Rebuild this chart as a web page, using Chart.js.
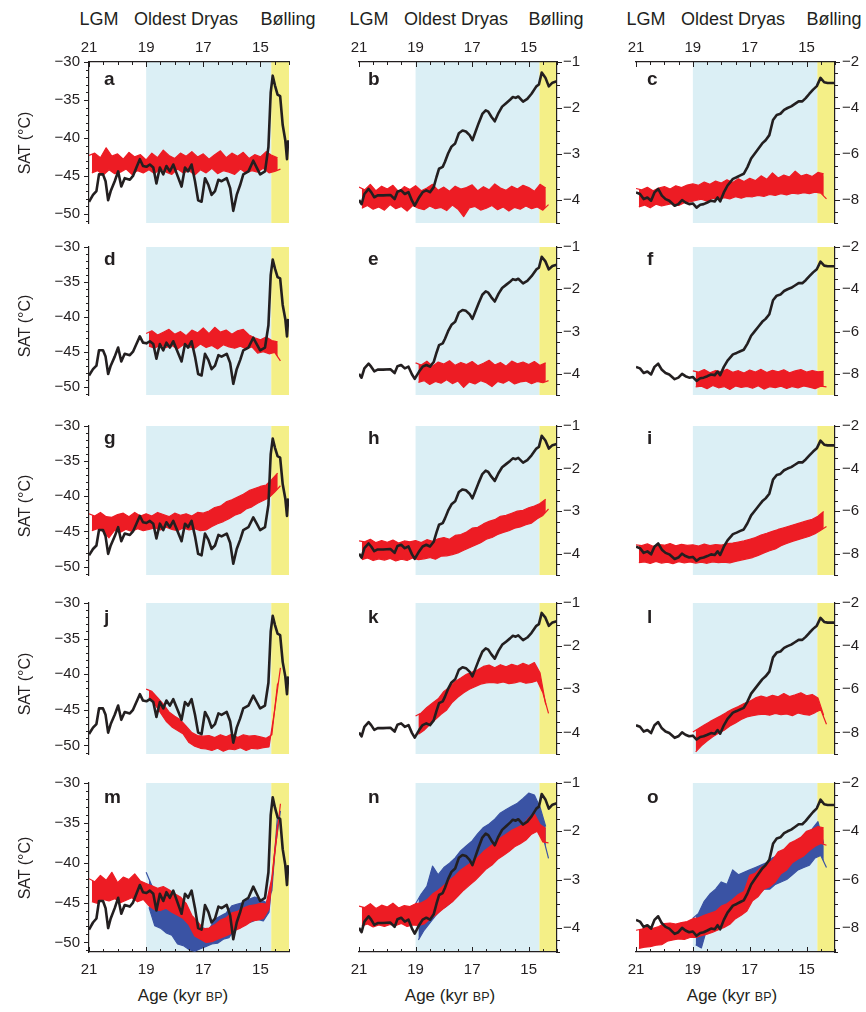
<!DOCTYPE html>
<html>
<head>
<meta charset="utf-8">
<script src="https://cdn.jsdelivr.net/npm/chart.js@4.4.1/dist/chart.umd.min.js"></script>
<style>
  body { margin: 0; background: #fff; width: 866px; height: 1012px; position: relative; overflow: hidden;
         font-family: "Liberation Sans", Arial, sans-serif; color: #231f20; }
  canvas { position: absolute; }
  .t { position: absolute; white-space: nowrap; z-index: 2; }
</style>
</head>
<body>
<script>
// sample ages (kyr BP) for the model runs, 21.0 down to 14.3
const ages = [21.0,20.9,20.8,20.7,20.6,20.5,20.4,20.3,20.2,20.1,
  20.0,19.9,19.8,19.7,19.6,19.5,19.4,19.3,19.2,19.1,
  19.0,18.9,18.8,18.7,18.6,18.5,18.4,18.3,18.2,18.1,
  18.0,17.9,17.8,17.7,17.6,17.5,17.4,17.3,17.2,17.1,
  17.0,16.9,16.8,16.7,16.6,16.5,16.4,16.3,16.2,16.1,
  16.0,15.9,15.8,15.7,15.6,15.5,15.4,15.3,15.2,15.1,
  15.0,14.9,14.8,14.7,14.6,14.5,14.4,14.3];

// black reference curves, one per column
const greenAge = [21.0,20.86,20.74,20.65,20.51,20.42,20.33,20.24,20.10,19.98,19.87,19.75,19.57,19.46,19.34,19.22,19.11,18.99,18.87,18.75,
  18.64,18.52,18.40,18.29,18.17,18.05,17.94,17.76,17.64,17.53,17.41,17.29,17.18,17.06,16.94,16.82,16.71,16.59,16.47,16.36,
  16.18,16.06,15.95,15.83,15.71,15.60,15.42,15.25,15.13,15.01,14.84,14.72,14.64,14.57,14.49,14.40,14.31,14.22,14.13,14.07,14.03];
const greenSAT = [-48.4,-47.5,-47.0,-44.8,-44.8,-45.7,-48.2,-47.0,-45.7,-44.4,-46.4,-45.3,-45.5,-45.0,-43.9,-42.8,-43.7,-43.8,-43.5,-43.9,
  -46.0,-43.9,-44.8,-43.7,-44.4,-43.5,-44.6,-46.4,-43.9,-44.4,-43.5,-45.7,-48.2,-48.4,-45.3,-46.2,-47.5,-47.0,-45.5,-45.7,
  -45.3,-46.6,-49.6,-47.5,-46.2,-44.8,-44.4,-43.0,-43.9,-44.8,-44.4,-41.2,-34.0,-31.8,-33.1,-34.3,-34.5,-38.3,-40.3,-42.8,-40.3];

const midAge = [21.0,20.91,20.81,20.66,20.57,20.46,20.34,20.15,19.89,19.74,19.64,19.51,19.38,19.25,19.13,19.03,18.87,18.75,18.62,18.49,
  18.36,18.26,18.17,18.04,17.96,17.85,17.73,17.60,17.47,17.34,17.22,17.09,16.99,16.90,16.77,16.64,16.52,16.43,16.32,16.20,
  16.07,15.94,15.79,15.66,15.56,15.46,15.37,15.20,15.05,14.90,14.73,14.64,14.54,14.41,14.29,14.16,14.01];
const midVal = [-4.00,-4.09,-3.87,-3.76,-3.83,-3.94,-3.90,-3.90,-3.89,-3.98,-3.82,-3.79,-3.87,-3.83,-4.01,-4.12,-3.94,-3.83,-3.79,-3.83,
  -3.72,-3.50,-3.32,-3.28,-3.17,-2.99,-2.84,-2.77,-2.55,-2.49,-2.51,-2.59,-2.70,-2.55,-2.33,-2.13,-2.05,-2.08,-2.19,-2.29,
  -2.11,-1.97,-1.89,-1.82,-1.76,-1.78,-1.75,-1.86,-1.80,-1.69,-1.53,-1.49,-1.23,-1.34,-1.53,-1.45,-1.42];

const rightAge = [21.0,20.86,20.73,20.60,20.47,20.35,20.22,20.09,19.96,19.83,19.64,19.51,19.38,19.26,19.13,19.00,18.87,18.74,18.62,18.49,
  18.36,18.23,18.13,18.04,17.91,17.78,17.59,17.46,17.33,17.21,17.08,16.95,16.82,16.69,16.56,16.44,16.31,16.18,16.05,15.92,
  15.79,15.67,15.54,15.41,15.28,15.15,15.03,14.90,14.77,14.64,14.51,14.38,14.26,14.0];
const rightVal = [-7.67,-7.74,-7.96,-7.89,-8.03,-7.67,-7.52,-7.81,-7.96,-8.03,-8.25,-8.18,-8.00,-8.11,-8.18,-8.15,-8.33,-8.21,-8.18,-8.11,
  -8.03,-8.06,-7.89,-8.06,-7.67,-7.37,-7.08,-7.01,-6.93,-6.86,-6.57,-6.20,-5.98,-5.76,-5.54,-5.40,-5.18,-4.52,-4.30,-4.25,
  -4.08,-4.00,-3.93,-3.82,-3.71,-3.71,-3.57,-3.38,-3.20,-3.05,-2.69,-2.88,-2.91,-2.91];

// red / blue runs: values alternate upper / lower edge of the noisy band;
// series shorter than ages start at 19.0 kyr
const redA = [-42.3,-44.6,-42.0,-44.3,-42.6,-44.9,-41.3,-44.2,-42.4,-44.7,
  -42.1,-44.5,-42.8,-44.1,-41.9,-44.8,-42.5,-44.3,-42.2,-44.6,
  -42.9,-44.2,-42.0,-44.7,-42.6,-44.0,-41.6,-44.5,-42.3,-44.8,
  -42.7,-44.1,-42.0,-44.6,-42.4,-44.3,-41.8,-44.9,-42.5,-44.2,
  -42.1,-44.6,-42.8,-44.0,-42.2,-44.7,-41.7,-44.3,-42.6,-44.5,
  -42.0,-44.8,-42.4,-44.1,-41.9,-44.6,-42.7,-44.3,-42.2,-44.5,
  -42.5,-44.0,-41.8,-44.6,-42.3,-44.4,-42.6,-44.1];
const redD = [-42.4,-44.2,-42.0,-44.5,-42.6,-44.0,-42.2,-44.4,-41.8,-44.1,
  -42.5,-44.6,-42.1,-44.0,-42.7,-44.3,-41.9,-44.5,-42.3,-43.9,
  -41.6,-44.4,-42.4,-44.1,-41.5,-44.6,-42.2,-44.0,-41.9,-44.3,
  -42.5,-44.5,-42.0,-44.2,-41.8,-44.6,-42.6,-44.3,-43.0,-45.2,
  -43.3,-45.0,-42.9,-45.3,-43.4,-45.1,-43.6,-46.3];
const redG = [-42.5,-44.9,-42.8,-44.6,-42.3,-45.0,-42.9,-45.9,-43.0,-44.8,
  -42.6,-45.1,-42.4,-44.7,-42.9,-45.0,-42.3,-44.6,-42.8,-44.9,
  -42.5,-44.7,-42.8,-44.5,-42.3,-44.8,-42.6,-44.4,-42.9,-44.7,
  -42.4,-44.9,-42.7,-44.5,-42.5,-44.8,-42.8,-44.6,-42.3,-44.9,
  -42.4,-44.8,-42.1,-44.3,-41.6,-43.9,-41.4,-43.6,-40.8,-43.2,
  -40.5,-42.7,-40.1,-42.4,-39.7,-41.8,-39.2,-41.5,-38.9,-41.0,
  -38.6,-40.6,-38.4,-40.2,-37.6,-39.4,-36.7,-38.5];
const redJ = [-42.1,-43.2,-42.4,-44.2,-43.3,-45.4,-44.2,-46.6,-45.3,-47.4,
  -45.9,-47.9,-46.4,-48.4,-47.3,-49.6,-48.2,-50.1,-48.6,-50.4,
  -48.7,-50.5,-48.6,-50.7,-48.9,-50.4,-48.5,-50.8,-48.8,-50.5,
  -48.4,-50.6,-48.9,-50.3,-48.5,-50.7,-48.7,-50.4,-48.6,-50.5,
  -48.8,-50.3,-49.0,-50.2,-48.5,-45.0,-41.3,-39.1];
const redM = [-42.0,-44.9,-42.4,-45.1,-41.6,-44.6,-42.2,-44.8,-41.2,-44.5,
  -42.5,-45.0,-41.8,-44.7,-42.1,-44.4,-41.4,-44.9,-42.3,-44.6,
  -42.6,-45.4,-42.9,-45.9,-43.2,-46.0,-43.0,-45.7,-43.4,-46.2,
  -43.9,-46.6,-44.3,-47.0,-45.1,-47.8,-46.6,-49.2,-47.4,-49.6,
  -48.3,-50.0,-48.2,-49.9,-47.8,-49.6,-47.2,-49.3,-46.9,-49.0,
  -46.3,-48.5,-46.1,-48.2,-45.7,-47.8,-45.4,-47.3,-45.3,-47.2,
  -45.1,-47.0,-45.2,-45.8,-41.9,-39.0,-35.2,-32.6];
const blueM = [-41.2,-45.6,-42.9,-47.9,-43.5,-48.2,-44.3,-48.8,-44.6,-49.1,
  -45.8,-50.2,-46.1,-50.4,-47.0,-50.9,-47.3,-51.1,-47.6,-50.8,
  -48.2,-50.5,-48.4,-50.2,-47.1,-50.1,-46.7,-49.6,-46.3,-49.4,
  -45.4,-48.3,-45.2,-48.0,-45.0,-47.6,-44.6,-47.4,-44.3,-47.1,
  -44.6,-47.3,-45.0,-46.2,-43.5,-38.6,-34.0,-33.5];

const redB = [-3.72,-4.18,-3.78,-4.12,-3.66,-4.20,-3.80,-4.15,-3.70,-4.22,
  -3.76,-4.10,-3.68,-4.19,-3.82,-4.14,-3.71,-4.24,-3.77,-4.12,
  -3.69,-4.18,-3.80,-4.21,-3.74,-4.13,-3.66,-4.19,-3.79,-4.16,
  -3.72,-4.23,-3.81,-4.11,-3.70,-4.20,-3.76,-4.36,-3.73,-4.17,
  -3.67,-4.14,-3.80,-4.22,-3.71,-4.18,-3.78,-4.12,-3.65,-4.21,
  -3.74,-4.15,-3.79,-4.24,-3.70,-4.16,-3.76,-4.20,-3.68,-4.13,
  -3.73,-4.19,-3.81,-4.15,-3.66,-4.22,-3.74,-4.10];
const redE = [-3.74,-4.20,-3.79,-4.16,-3.70,-4.25,-3.82,-4.18,-3.72,-4.22,
  -3.77,-4.14,-3.69,-4.23,-3.80,-4.17,-3.73,-4.32,-3.78,-4.19,
  -3.71,-4.24,-3.81,-4.16,-3.75,-4.21,-3.68,-4.30,-3.79,-4.18,
  -3.73,-4.22,-3.82,-4.15,-3.70,-4.24,-3.76,-4.19,-3.72,-4.17,
  -3.78,-4.23,-3.71,-4.18,-3.80,-4.21,-3.74,-4.16];
const redH = [-3.70,-4.14,-3.72,-4.10,-3.66,-4.16,-3.74,-4.12,-3.69,-4.15,
  -3.73,-4.11,-3.68,-4.17,-3.75,-4.13,-3.70,-4.16,-3.72,-4.10,
  -3.69,-4.14,-3.74,-4.12,-3.67,-4.09,-3.71,-4.13,-3.65,-4.06,
  -3.62,-4.05,-3.66,-4.02,-3.57,-3.98,-3.55,-3.92,-3.49,-3.86,
  -3.40,-3.80,-3.38,-3.74,-3.30,-3.66,-3.24,-3.62,-3.20,-3.55,
  -3.12,-3.50,-3.10,-3.46,-3.05,-3.40,-3.00,-3.37,-2.98,-3.32,
  -2.92,-3.28,-2.88,-3.18,-2.82,-3.10,-2.72,-2.95];
const redK = [-3.62,-4.04,-3.55,-3.95,-3.42,-3.82,-3.32,-3.70,-3.22,-3.58,
  -3.05,-3.48,-2.95,-3.30,-2.82,-3.18,-2.74,-3.08,-2.65,-3.00,
  -2.60,-2.94,-2.55,-2.88,-2.47,-2.85,-2.44,-2.84,-2.50,-2.86,
  -2.43,-2.83,-2.48,-2.87,-2.42,-2.85,-2.46,-2.82,-2.40,-2.86,
  -2.45,-2.84,-2.38,-2.80,-2.62,-3.08,-3.35,-3.56];
const redN = [-3.55,-3.96,-3.58,-3.92,-3.50,-3.98,-3.60,-3.94,-3.53,-3.97,
  -3.57,-3.93,-3.49,-3.95,-3.59,-3.91,-3.54,-3.97,-3.56,-3.94,
  -3.50,-3.95,-3.48,-3.92,-3.42,-3.82,-3.30,-3.74,-3.22,-3.64,
  -3.12,-3.55,-3.02,-3.46,-2.92,-3.34,-2.80,-3.22,-2.72,-3.12,
  -2.64,-3.02,-2.54,-2.90,-2.42,-2.78,-2.33,-2.70,-2.24,-2.58,
  -2.14,-2.50,-2.06,-2.42,-1.98,-2.32,-1.92,-2.26,-1.86,-2.18,
  -1.72,-2.06,-1.64,-2.00,-1.86,-2.22,-1.94,-2.24];
const blueN = [-3.50,-4.25,-3.30,-4.05,-3.14,-3.90,-2.72,-3.75,-2.90,-3.62,
  -2.75,-3.55,-2.66,-3.45,-2.55,-3.30,-2.40,-3.12,-2.30,-3.00,
  -2.20,-2.85,-2.05,-2.70,-1.92,-2.62,-1.85,-2.50,-1.75,-2.40,
  -1.62,-2.30,-1.55,-2.18,-1.48,-2.05,-1.42,-1.98,-1.32,-1.86,
  -1.21,-1.76,-1.25,-1.83,-1.50,-2.10,-1.90,-2.56];

const redC = [-7.50,-8.30,-7.56,-8.22,-7.45,-8.34,-7.60,-8.18,-7.48,-8.26,
  -7.42,-8.20,-7.52,-8.15,-7.38,-8.24,-7.46,-8.12,-7.35,-8.08,
  -7.30,-8.02,-7.36,-7.96,-7.22,-8.05,-7.32,-7.92,-7.18,-7.98,
  -7.26,-7.90,-7.12,-7.95,-7.24,-7.86,-7.08,-7.92,-7.20,-7.84,
  -7.06,-7.86,-7.16,-7.80,-6.95,-7.84,-7.10,-7.76,-6.82,-7.80,
  -7.04,-7.72,-6.92,-7.78,-7.00,-7.70,-6.75,-7.74,-6.96,-7.68,
  -6.88,-7.72,-6.98,-7.66,-6.80,-7.70,-6.86,-7.95];
const redF = [-7.86,-8.62,-7.92,-8.58,-7.80,-8.70,-7.95,-8.55,-7.84,-8.66,
  -7.90,-8.60,-7.78,-8.74,-7.93,-8.57,-7.85,-8.64,-7.96,-8.59,
  -7.82,-8.68,-7.91,-8.56,-7.79,-8.72,-7.94,-8.61,-7.83,-8.65,
  -7.90,-8.58,-7.81,-8.69,-7.95,-8.60,-7.86,-8.66,-7.80,-8.57,
  -7.92,-8.63,-7.84,-8.70,-7.90,-8.58,-7.88,-8.62];
const redI = [-7.58,-8.42,-7.62,-8.38,-7.54,-8.46,-7.65,-8.36,-7.57,-8.44,
  -7.60,-8.40,-7.52,-8.47,-7.63,-8.37,-7.56,-8.43,-7.61,-8.39,
  -7.58,-8.44,-7.64,-8.40,-7.55,-8.45,-7.62,-8.38,-7.57,-8.42,
  -7.60,-8.40,-7.53,-8.43,-7.50,-8.36,-7.45,-8.30,-7.40,-8.24,
  -7.32,-8.18,-7.24,-8.08,-7.12,-7.96,-7.04,-7.86,-6.95,-7.78,
  -6.86,-7.62,-6.78,-7.52,-6.70,-7.42,-6.62,-7.34,-6.54,-7.26,
  -6.46,-7.18,-6.38,-7.06,-6.24,-6.90,-6.02,-6.72];
const redL = [-7.98,-8.90,-7.82,-8.62,-7.66,-8.40,-7.50,-8.20,-7.36,-8.04,
  -7.22,-7.90,-7.06,-7.70,-6.92,-7.56,-6.80,-7.40,-6.66,-7.28,
  -6.56,-7.22,-6.40,-7.18,-6.32,-7.15,-6.38,-7.20,-6.28,-7.12,
  -6.35,-7.18,-6.20,-7.14,-6.34,-7.22,-6.26,-7.10,-6.16,-7.16,
  -6.30,-7.20,-6.24,-7.08,-6.40,-6.95,-7.20,-7.62];
const redO = [-8.10,-8.85,-8.05,-8.80,-7.98,-8.78,-8.02,-8.72,-7.95,-8.70,
  -7.82,-8.55,-7.80,-8.50,-7.84,-8.46,-7.78,-8.48,-7.74,-8.40,
  -7.62,-8.40,-7.58,-8.32,-7.48,-8.26,-7.40,-8.18,-7.32,-8.08,
  -7.10,-7.98,-7.00,-7.85,-6.82,-7.62,-6.62,-7.48,-6.50,-7.30,
  -5.82,-6.88,-5.74,-6.70,-5.50,-6.40,-5.38,-6.30,-5.20,-6.10,
  -4.85,-5.76,-4.75,-5.60,-4.50,-5.30,-4.38,-5.15,-4.25,-5.02,
  -4.00,-4.80,-3.92,-4.62,-3.80,-4.50,-3.86,-4.58];
const blueO = [-7.60,-8.70,-7.40,-8.83,-6.90,-8.00,-6.60,-7.90,-6.40,-7.70,
  -6.10,-7.50,-6.20,-7.40,-5.60,-7.20,-5.80,-7.00,-5.70,-6.80,
  -5.60,-6.80,-5.50,-6.60,-5.40,-6.40,-5.30,-6.40,-5.10,-6.20,
  -5.00,-6.10,-4.80,-6.00,-4.70,-5.80,-4.50,-5.60,-4.30,-5.50,
  -4.20,-5.40,-3.90,-5.10,-3.60,-5.00,-4.50,-5.50];

const xTickLabels = [21, 19, 17, 15];
const topLabels = ['LGM', 'Oldest Dryas', 'B\u00f8lling'];
const letters = 'abcdefghijklmno'.split('');

const INK = '#231f20', RED = '#ed1c24', BLUE = '#3a53a4';
const BAND_BLUE = '#dbeff5', BAND_YELLOW = '#f4ef87';
const FONT = '"Liberation Sans", Arial, sans-serif';
Chart.defaults.font.family = FONT;

// plot area geometry (pixels)
const colLeft = [89, 359, 636], colRight = [289, 557, 835];
const rowTop = [62, 247, 426, 603, 783], rowBottom = [223, 405, 585, 764, 952];
const yRange = [[-51.2, -30], [-4.5, -1], [-9, -2]];
const yStep = [1, 0.25, 0.5], yMajor = [5, 1, 2];
const yPad = [9, 6, 7];

const blackCurves = [[greenAge, greenSAT], [midAge, midVal], [rightAge, rightVal]];
const reds = [redA, redB, redC, redD, redE, redF, redG, redH, redI, redJ, redK, redL, redM, redN, redO];
const blues = {12: blueM, 13: blueN, 14: blueO};

function toPts(xs, ys) {
  const off = xs.length - ys.length;
  return ys.map((v, i) => ({x: xs[i + off], y: v}));
}
// split an alternating series into its upper and lower edge
function edges(xs, ys) {
  const pts = toPts(xs, ys);
  return [pts.filter((p, i) => i % 2 === 0), pts.filter((p, i) => i % 2 === 1)];
}
function bandSets(xs, ys, color) {
  const [hi, lo] = edges(xs, ys);
  return [
    {data: hi, borderColor: color, borderWidth: 1.2, fill: false},
    {data: lo, borderColor: color, borderWidth: 1.2, backgroundColor: color, fill: '-1'}
  ];
}

const bands = {
  id: 'bands',
  beforeDraw(chart) {
    const {ctx, chartArea: {top, bottom}, scales: {x}} = chart;
    const fill = (a, b, c) => {
      const p1 = x.getPixelForValue(a), p2 = x.getPixelForValue(b);
      ctx.fillStyle = c;
      ctx.fillRect(Math.min(p1, p2), top, Math.abs(p2 - p1), bottom - top);
    };
    ctx.save();
    fill(19, 14.62, BAND_BLUE);
    fill(14.62, 14, BAND_YELLOW);
    ctx.restore();
  }
};

// short tick marks: x ticks point inward, y ticks outward
const tickMarks = {
  id: 'tickMarks',
  afterDraw(chart) {
    const {ctx, chartArea} = chart;
    ctx.save();
    ctx.strokeStyle = INK;
    ctx.lineWidth = 1;
    Object.values(chart.scales).forEach(s => {
      if (!s.options.display) return;
      s.ticks.forEach(t => {
        const len = t.label !== '' ? 5 : 3;
        const p = Math.round(s.getPixelForValue(t.value)) + 0.5;
        ctx.beginPath();
        if (s.isHorizontal()) {
          const y0 = s.position === 'top' ? chartArea.top : chartArea.bottom;
          const dir = s.position === 'top' ? 1 : -1;
          ctx.moveTo(p, y0); ctx.lineTo(p, y0 + dir * len);
        } else {
          const x0 = s.position === 'left' ? chartArea.left : chartArea.right;
          const dir = s.position === 'left' ? -1 : 1;
          ctx.moveTo(x0, p); ctx.lineTo(x0 + dir * len, p);
        }
        ctx.stroke();
      });
    });
    ctx.restore();
  }
};

reds.forEach((red, k) => {
  const col = k % 3, row = Math.floor(k / 3);
  const L = col === 0 ? 60 : 15, R = col === 0 ? 12 : 40;
  const T = row === 0 ? 30 : 10, B = row === 4 ? 34 : 10;
  const w = colRight[col] - colLeft[col], h = rowBottom[row] - rowTop[row];

  const cv = document.createElement('canvas');
  cv.width = w + L + R;
  cv.height = h + T + B;
  cv.style.left = (colLeft[col] - L) + 'px';
  cv.style.top = (rowTop[row] - T) + 'px';
  document.body.appendChild(cv);

  // first dataset is painted last, so black sits on top, blue at the bottom
  const datasets = [
    {data: toPts(blackCurves[col][0], blackCurves[col][1]), borderColor: INK, borderWidth: 2.6, fill: false},
    ...bandSets(ages, red, RED)
  ];
  if (blues[k]) datasets.push(...bandSets(ages, blues[k], BLUE));

  const tickFont = {family: FONT, size: 15};
  new Chart(cv, {
    type: 'line',
    data: {datasets},
    options: {
      responsive: false,
      animation: false,
      events: [],
      layout: {padding: {left: col === 0 ? 0 : L, right: col === 0 ? R : 0,
                         top: row === 0 ? 0 : T, bottom: row === 4 ? 0 : B}},
      plugins: {legend: {display: false}, tooltip: {enabled: false}},
      elements: {point: {radius: 0}, line: {tension: 0, borderJoinStyle: 'round'}},
      scales: {
        x: {
          type: 'linear', min: 14, max: 21, reverse: true,
          position: row === 0 ? 'top' : 'bottom',
          display: row === 0 || row === 4,
          grid: {display: false, drawTicks: false},
          border: {display: true, color: INK, width: 1.2},
          ticks: {
            stepSize: 0.5, maxTicksLimit: 100, autoSkip: false, maxRotation: 0, includeBounds: false,
            padding: row === 0 ? 5 : 9, font: tickFont, color: INK,
            callback: v => xTickLabels.includes(v) ? String(v) : ''
          },
          afterFit: s => { s.height = row === 0 ? T : B; s.paddingLeft = 0; s.paddingRight = 0; }
        },
        y: {
          type: 'linear', min: yRange[col][0], max: yRange[col][1],
          position: col === 0 ? 'left' : 'right',
          grid: {display: false, drawTicks: false},
          border: {display: true, color: INK, width: 1.2},
          ticks: {
            stepSize: yStep[col], maxTicksLimit: 100, autoSkip: false, includeBounds: false,
            padding: yPad[col], font: tickFont, color: INK,
            callback: v => Math.abs(v % yMajor[col]) < 1e-6 ? '\u2212' + Math.abs(v) : ''
          },
          afterFit: s => { s.width = col === 0 ? L : R; s.paddingTop = 0; s.paddingBottom = 0; }
        }
      }
    },
    plugins: [bands, tickMarks]
  });
});

// text: positioned by baseline
function addText(html, x, base, size, opt) {
  opt = opt || {};
  const d = document.createElement('div');
  d.className = 't';
  d.innerHTML = html;
  d.style.fontSize = size + 'px';
  d.style.lineHeight = size + 'px';
  d.style.left = x + 'px';
  d.style.top = (base - 0.8465 * size) + 'px';
  if (opt.bold) d.style.fontWeight = 'bold';
  if (opt.center) d.style.transform = 'translateX(-50%)';
  document.body.appendChild(d);
}

const letterX = [104, 368, 647];
const letterBase = [85, 265, 444, 623, 803];
letters.forEach((l, k) => addText(l, letterX[k % 3], letterBase[Math.floor(k / 3)], 19, {bold: true}));

[0, 1, 2].forEach(col => {
  addText(topLabels[0], colLeft[col] + 10, 25, 18, {center: true});
  addText(topLabels[1], colLeft[col] + 97, 25, 18, {center: true});
  addText(topLabels[2], colRight[col] - 1, 25, 18, {center: true});
});

const ageTitleX = [183, 450, 732];
ageTitleX.forEach(x => addText('Age (kyr <span style="font-size:12.5px">BP</span>)', x, 1001, 17, {center: true}));

rowTop.forEach((t, r) => {
  const d = document.createElement('div');
  d.className = 't';
  d.textContent = 'SAT (\u00b0C)';
  d.style.fontSize = '16px';
  d.style.lineHeight = '16px';
  d.style.left = '25px';
  d.style.top = ((t + rowBottom[r]) / 2) + 'px';
  d.style.transform = 'translate(-50%,-50%) rotate(-90deg)';
  document.body.appendChild(d);
});
</script>
</body>
</html>
